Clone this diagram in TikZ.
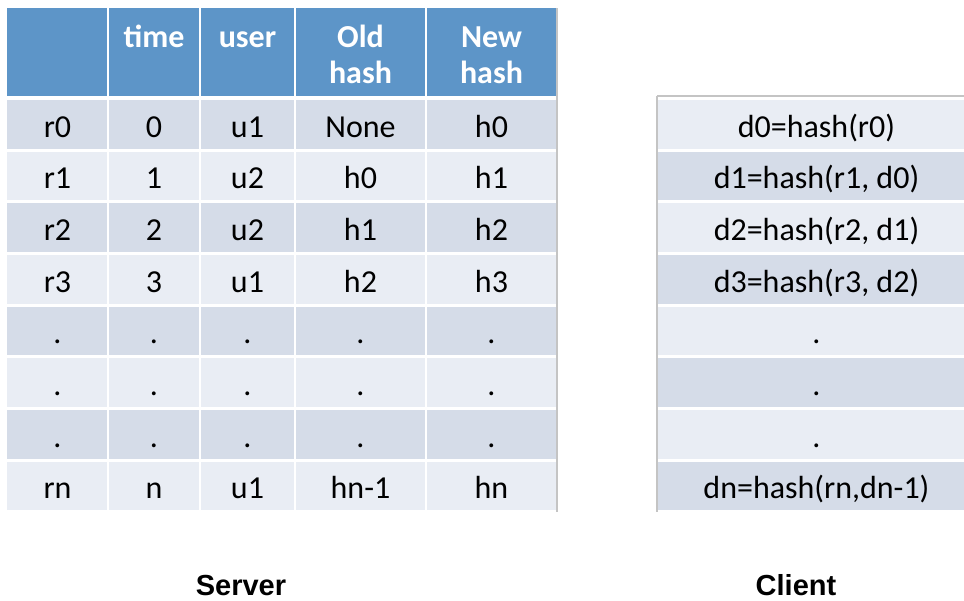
\documentclass[tikz,border=0pt]{standalone}
\usepackage{fontspec}
\setmainfont{Carlito}
\newfontfamily\labelfont{Liberation Sans}
\definecolor{hdrblue}{HTML}{5D95C8}
\definecolor{rowdark}{HTML}{D5DCE8}
\definecolor{rowlight}{HTML}{E9EDF4}
\definecolor{edgegray}{HTML}{C4C4C4}

\begin{document}
\begin{tikzpicture}[x=1pt,y=-1pt,
  celltext/.style={inner sep=0pt,anchor=base,font=\fontsize{32}{36}\selectfont,text=black},
  hdrtext/.style={inner sep=0pt,anchor=base,font=\fontsize{32}{36}\selectfont\bfseries,text=white},
  caption/.style={inner sep=0pt,anchor=base,font=\labelfont\fontsize{29}{34}\selectfont\bfseries,text=black},
  edge/.style={edgegray,line width=1.5pt}]
\useasboundingbox (0,0) rectangle (964,600);

% ---------- server table ----------
\fill[hdrblue] (7,8) rectangle (557,96);
\foreach \i in {0,...,7}{
  \pgfmathsetmacro\yt{100+51.67*\i}
  \pgfmathtruncatemacro\odd{mod(\i,2)}
  \ifnum\odd=0 \def\rc{rowdark}\else\def\rc{rowlight}\fi
  \fill[\rc] (7,\yt) rectangle (557,\yt+48.7);
  % client rows use the opposite shading
  \ifnum\odd=0 \def\cc{rowlight}\else\def\cc{rowdark}\fi
  \fill[\cc] (657,\yt) rectangle (964,\yt+48.7);
}
% white column separators
\foreach \x in {108,200,295,426}
  \draw[white,line width=2.2pt] (\x,8) -- (\x,512);
\draw[edge] (557,8) -- (557,512);

% header labels
\node[hdrtext] (h2) at (154,47) {time};
\node[hdrtext] (h3) at (247.5,47) {user};
\node[hdrtext] (h4) at (360.5,47) {Old};
\node[hdrtext] (h4b) at (360.5,83) {hash};
\node[hdrtext] (h5) at (491.5,47) {New};
\node[hdrtext] (h5b) at (491.5,83) {hash};

% body cells
\foreach \row [count=\i from 0] in {
    {r0,0,u1,None,h0},{r1,1,u2,h0,h1},{r2,2,u2,h1,h2},{r3,3,u1,h2,h3},
    {.,.,.,.,.},{.,.,.,.,.},{.,.,.,.,.},{rn,n,u1,hn-1,hn}}{
  \pgfmathsetmacro\yb{100+51.67*\i+37}
  \foreach \txt [count=\j from 0] in \row {
    \pgfmathsetmacro\cx{{57.5,154,247.5,360.5,491.5}[\j]}
    \node[celltext] (s-\i-\j) at (\cx,\yb) {\txt};
  }
}

% ---------- client table ----------
\draw[edge] (657,96) -- (964,96);
\draw[edge] (657,96) -- (657,512);
\foreach \txt [count=\i from 0] in {
    d0=hash(r0),{d1=hash(r1, d0)},{d2=hash(r2, d1)},{d3=hash(r3, d2)},
    .,.,.,{dn=hash(rn,dn-1)}}{
  \pgfmathsetmacro\yb{100+51.67*\i+37}
  \node[celltext] (c-\i) at (816.5,\yb) {\txt};
}

% ---------- captions ----------
\node[caption] (server) at (241,595) {Server};
\node[caption] (client) at (796,595) {Client};
\end{tikzpicture}
\end{document}
